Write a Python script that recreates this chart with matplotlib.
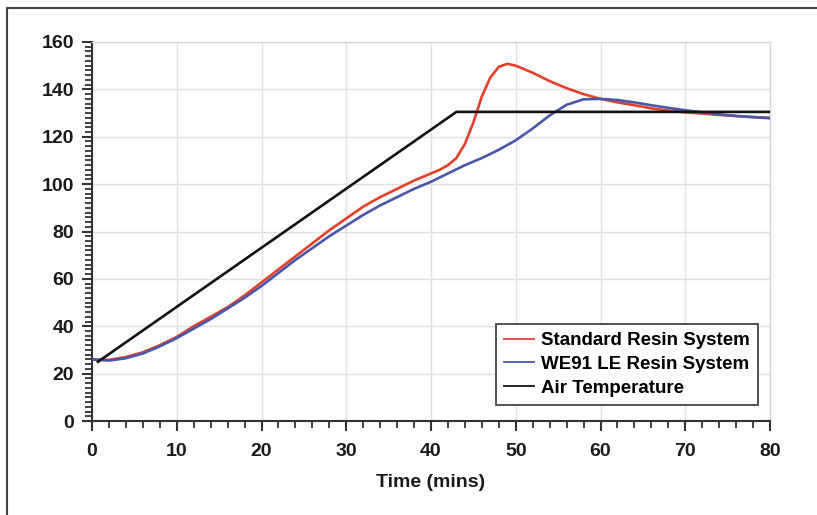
import numpy as np
import matplotlib
matplotlib.use("Agg")
import matplotlib.pyplot as plt
from matplotlib.lines import Line2D
from matplotlib.ticker import MultipleLocator

plt.rcParams['font.family'] = ['Liberation Sans', 'DejaVu Sans']

# Standard resin system
t_std = [0, 2, 4, 6, 8, 10, 12, 14, 16, 18, 20, 22, 24, 26, 28, 30, 32, 34, 36, 38,
         40, 41, 42, 43, 44, 45, 46, 47, 48, 49, 50, 52, 54, 56, 58, 60, 62, 64, 66,
         68, 70, 72, 74, 76, 78, 80]
temp_std = [26, 25.8, 27, 29, 32, 35.5, 40, 44, 48, 53, 58.5, 64, 69.5, 75, 80.5, 85.5,
            90.5, 94.5, 98, 101.5, 104.5, 106, 108, 111, 117, 126, 137, 145, 149.5, 150.8,
            150, 147, 143.5, 140.5, 138, 136, 134.5, 133.3, 132, 131, 130.3, 129.8,
            129.2, 128.7, 128.3, 128]

# WE91 LE resin system
t_we = [0, 2, 4, 6, 8, 10, 12, 14, 16, 18, 20, 22, 24, 26, 28, 30, 32, 34, 36, 38,
        40, 42, 44, 46, 48, 50, 52, 54, 56, 58, 60, 62, 64, 66, 68, 70, 72, 74, 76,
        78, 80]
temp_we = [26, 25.5, 26.5, 28.5, 31.5, 35, 39, 43, 47.5, 52, 57, 62.5, 68, 73, 78, 82.5,
           87, 91, 94.5, 98, 101, 104.5, 108, 111, 114.5, 118.5, 123.5, 129, 133.5,
           135.8, 136, 135.5, 134.5, 133.3, 132.2, 131.2, 130.3, 129.5, 128.8, 128.3,
           127.8]

# Air temperature
t_air = [0.7, 43, 80]
temp_air = [25, 130.5, 130.5]

fig = plt.figure(figsize=(8.17, 5.15), dpi=100)
ax = fig.add_axes([92 / 817, 1 - 421 / 515, 678 / 817, 379 / 515])

ax.plot(t_std, temp_std, color='#e3402c', lw=1.9, label='Standard Resin System', zorder=3)
ax.plot(t_we, temp_we, color='#4857a8', lw=1.9, label='WE91 LE Resin System', zorder=3)
ax.plot(t_air, temp_air, color='#111111', lw=1.9, label='Air Temperature', zorder=4)

ax.set_xlim(0, 80)
ax.set_ylim(0, 160)
ax.xaxis.set_major_locator(MultipleLocator(10))
ax.xaxis.set_minor_locator(MultipleLocator(2))
ax.yaxis.set_major_locator(MultipleLocator(20))
ax.yaxis.set_minor_locator(MultipleLocator(2))

ax.grid(True, which='major', color='#e4e0dc', lw=1.0)
ax.set_axisbelow(True)

for s in ['left', 'bottom']:
    ax.spines[s].set_color('#333333')
    ax.spines[s].set_linewidth(1.5)
for s in ['top', 'right']:
    ax.spines[s].set_color('#d8d4d0')
    ax.spines[s].set_linewidth(1.0)

ax.tick_params(which='major', direction='out', length=7, width=1.5, color='#333333',
               labelsize=14)
ax.tick_params(axis='x', which='major', pad=9)
ax.tick_params(axis='y', which='major', pad=6)
ax.tick_params(which='minor', direction='out', length=5, width=1.3, color='#333333')
for lab in ax.get_xticklabels() + ax.get_yticklabels():
    lab.set_fontweight('bold')
    lab.set_color('#1a1a1a')

ax.set_xlabel('Time (mins)', fontsize=14, fontweight='bold', color='#1a1a1a', labelpad=10)

leg = ax.legend(loc='lower right', bbox_to_anchor=(0.982, 0.042),
                prop={'weight': 'bold', 'size': 13.5}, handlelength=1.6,
                handletextpad=0.35, labelspacing=0.35, borderpad=0.45,
                borderaxespad=0, fancybox=False, framealpha=1, edgecolor='#444444')
leg.get_frame().set_linewidth(1.3)
for h in leg.get_lines():
    h.set_linewidth(1.3)

# outer frame of the figure (left and top edges)
fig.add_artist(Line2D([7 / 817, 7 / 817], [0, 1 - 8 / 515], color='#444444', lw=1.5))
fig.add_artist(Line2D([7 / 817, 1], [1 - 8 / 515, 1 - 8 / 515], color='#444444', lw=1.5))

fig.savefig('out.png', dpi=100)
